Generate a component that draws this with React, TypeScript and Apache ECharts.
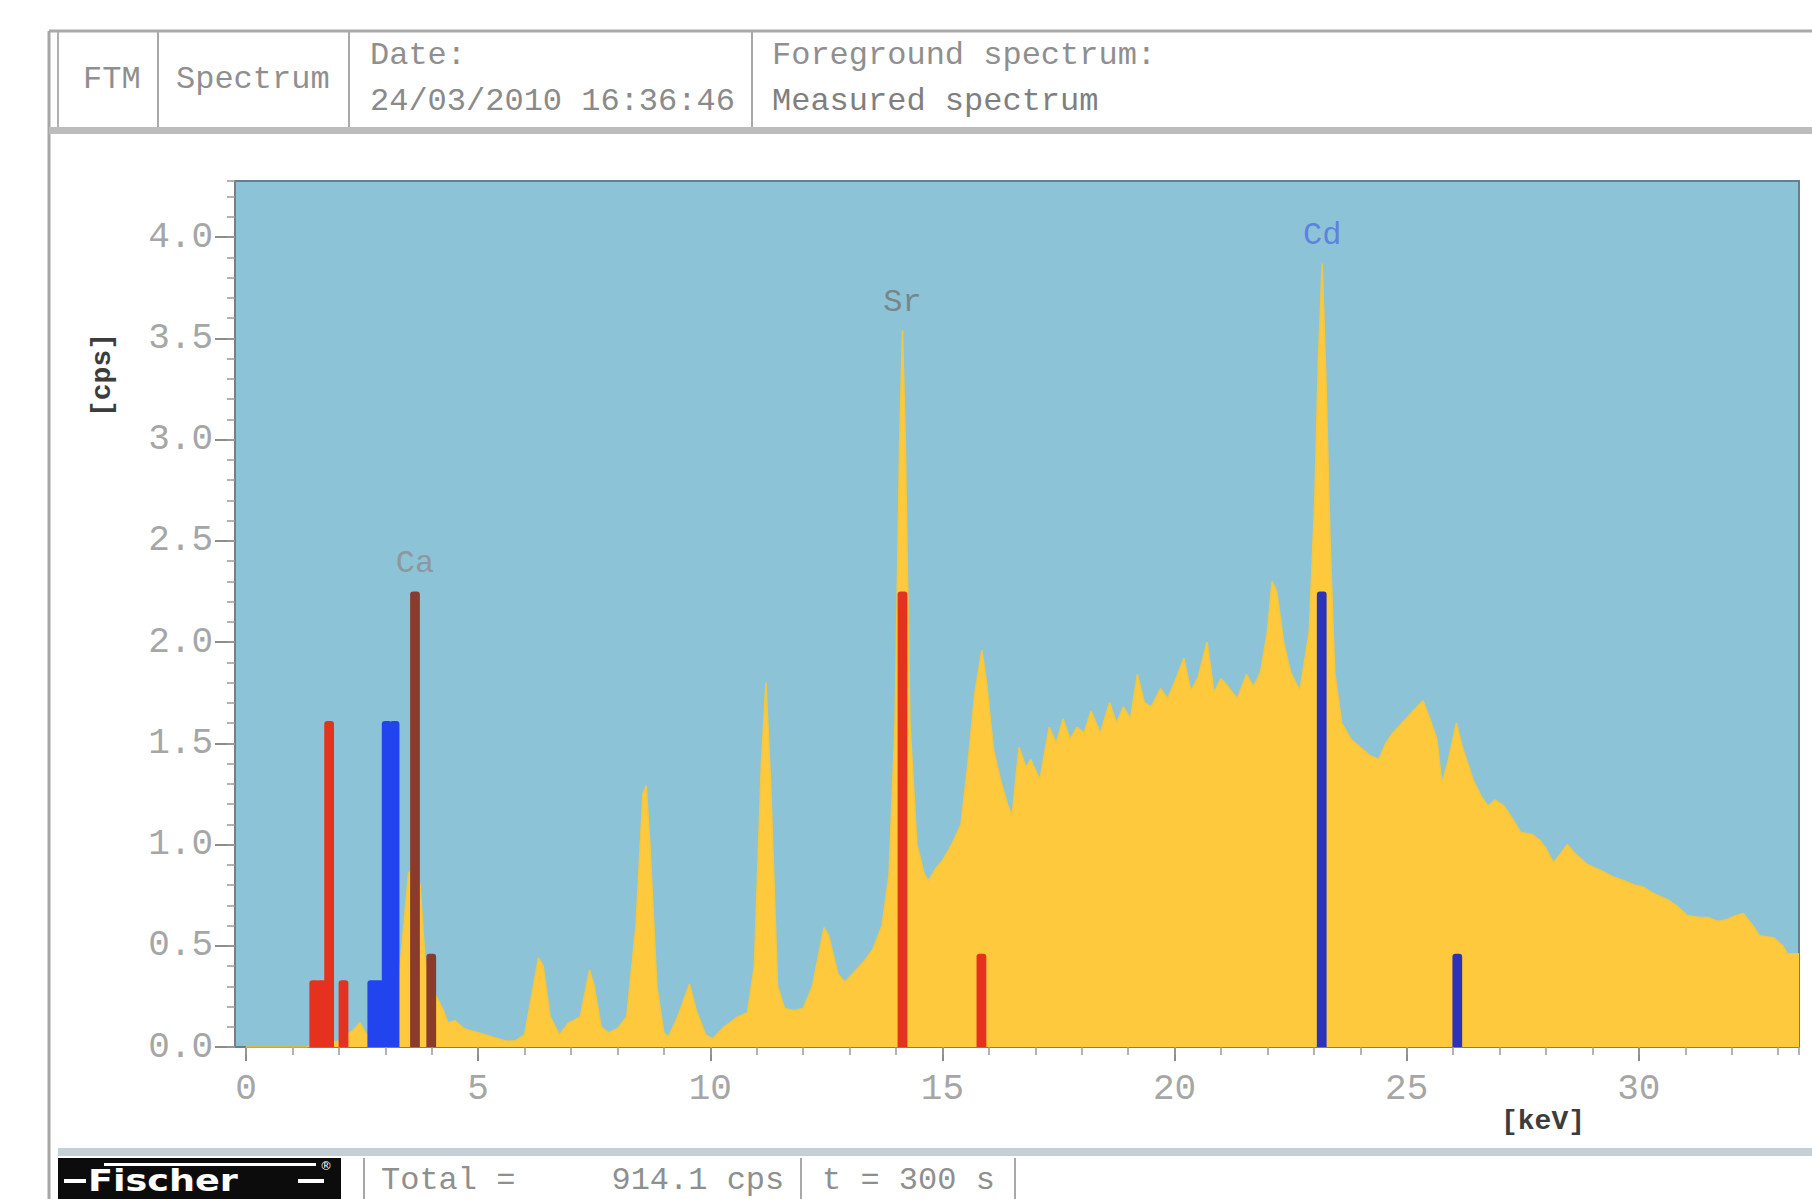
import React, { useEffect, useRef } from "react";
import * as echarts from "echarts";

// ---------- DATA ----------
// Measured XRF spectrum (energy in keV, intensity in cps)
const energies = [
  0, 1.3, 1.5, 2.0, 2.3, 2.45, 2.6, 2.8, 3.0, 3.1, 3.3, 3.4, 3.5, 3.65, 3.75, 3.85, 3.95, 4.1, 4.25, 4.35,
  4.5, 4.7, 5.0, 5.3, 5.6, 5.8, 6.0, 6.15, 6.3, 6.4, 6.55, 6.75, 6.95, 7.05, 7.2, 7.4, 7.5, 7.65, 7.8, 8.0,
  8.2, 8.4, 8.55, 8.62, 8.7, 8.85, 9.0, 9.1, 9.3, 9.55, 9.7, 9.9, 10.05, 10.3, 10.6, 10.8, 10.95, 11.1, 11.2, 11.3,
  11.45, 11.6, 11.8, 12.0, 12.2, 12.45, 12.55, 12.75, 12.9, 13.1, 13.3, 13.5, 13.7, 13.85, 13.98, 14.08, 14.14, 14.2, 14.3, 14.45,
  14.6, 14.7, 14.85, 15.0, 15.2, 15.4, 15.55, 15.7, 15.85, 15.95, 16.1, 16.25, 16.4, 16.5, 16.65, 16.8, 16.9, 17.1, 17.3, 17.45,
  17.6, 17.75, 17.9, 18.05, 18.2, 18.4, 18.6, 18.75, 18.9, 19.05, 19.2, 19.35, 19.5, 19.7, 19.85, 20.0, 20.2, 20.35, 20.5, 20.7,
  20.85, 21.0, 21.15, 21.35, 21.55, 21.7, 21.85, 22.0, 22.1, 22.2, 22.35, 22.5, 22.7, 22.9, 23.02, 23.1, 23.18, 23.26, 23.35, 23.45,
  23.6, 23.8, 24.0, 24.2, 24.4, 24.55, 24.7, 24.9, 25.1, 25.35, 25.5, 25.65, 25.76, 25.9, 26.07, 26.2, 26.43, 26.6, 26.75, 26.9,
  27.1, 27.3, 27.45, 27.7, 27.87, 28.0, 28.16, 28.3, 28.46, 28.65, 28.9, 29.2, 29.45, 29.7, 29.9, 30.1, 30.3, 30.6, 30.8, 31.04,
  31.3, 31.5, 31.7, 31.9, 32.1, 32.25, 32.45, 32.6, 32.9, 33.1, 33.2, 33.45,
];
const counts = [
  0, 0, 0.01, 0.03, 0.08, 0.12, 0.06, 0.05, 0.1, 0.25, 0.35, 0.6, 0.86, 0.88, 0.8, 0.45, 0.3, 0.25, 0.18, 0.12,
  0.13, 0.09, 0.07, 0.05, 0.03, 0.03, 0.06, 0.25, 0.44, 0.4, 0.15, 0.06, 0.12, 0.13, 0.15, 0.38, 0.3, 0.1, 0.07, 0.09,
  0.15, 0.6, 1.25, 1.29, 1.0, 0.3, 0.07, 0.05, 0.15, 0.31, 0.18, 0.06, 0.04, 0.1, 0.15, 0.17, 0.4, 1.4, 1.8, 1.3,
  0.3, 0.19, 0.18, 0.19, 0.3, 0.59, 0.55, 0.36, 0.32, 0.37, 0.42, 0.48, 0.6, 0.85, 1.6, 3.0, 3.54, 3.0, 1.6, 1.0,
  0.86, 0.82, 0.88, 0.92, 1.0, 1.1, 1.4, 1.75, 1.96, 1.8, 1.47, 1.32, 1.2, 1.14, 1.48, 1.38, 1.42, 1.32, 1.58, 1.5,
  1.62, 1.52, 1.58, 1.55, 1.66, 1.55, 1.7, 1.6, 1.68, 1.62, 1.84, 1.7, 1.68, 1.77, 1.72, 1.8, 1.92, 1.76, 1.82, 2.0,
  1.75, 1.82, 1.78, 1.72, 1.84, 1.78, 1.85, 2.05, 2.3, 2.25, 2.0, 1.85, 1.76, 2.05, 2.7, 3.4, 3.87, 3.3, 2.5, 1.85,
  1.6, 1.52, 1.48, 1.44, 1.42, 1.5, 1.55, 1.6, 1.65, 1.71, 1.62, 1.52, 1.3, 1.42, 1.6, 1.48, 1.32, 1.24, 1.19, 1.22,
  1.19, 1.12, 1.06, 1.05, 1.02, 0.98, 0.91, 0.95, 1.0, 0.95, 0.9, 0.87, 0.84, 0.82, 0.8, 0.79, 0.76, 0.73, 0.7, 0.65,
  0.64, 0.64, 0.62, 0.63, 0.65, 0.66, 0.6, 0.55, 0.54, 0.5, 0.46, 0.46,
];

// Element reference lines: [energy keV, relative intensity cps]
const srLines = [[1.47, 0.33], [1.62, 0.33], [1.79, 1.61], [2.1, 0.33], [14.14, 2.25], [15.84, 0.46]];
const cdLLines = [[2.72, 0.33], [2.86, 0.33], [3.03, 1.61], [3.2, 1.61]];
const cdKLines = [[23.17, 2.25], [26.09, 0.46]];
const caLines = [[3.64, 2.25], [3.99, 0.46]];

// Peak annotations
const peakNames = ["Ca", "Sr", "Cd"];
const peakEnergies = [3.64, 14.14, 23.18];
const peakHeights = [2.25, 3.54, 3.87];

// Axis ticks
const xMax = 33.45;
const yMax = 4.277;
const xMajor = 5;
const xMinor = 1;
const yMajor = 0.5;
const yMinor = 0.1;

// Header / footer texts
const headerFTM = "FTM";
const headerKind = "Spectrum";
const headerDateLabel = "Date:";
const headerDate = "24/03/2010 16:36:46";
const headerFgLabel = "Foreground spectrum:";
const headerFg = "Measured spectrum";
const footerTotal = "Total =     914.1 cps";
const footerTime = "t = 300 s";
const logoText = "Fischer";

// ---------- STYLE ----------
const MONO = "'Liberation Mono', 'Courier New', monospace";
const LINE_W = 0.21; // keV width of a reference line bar
const peakColors = ["#8c8c8c", "#747474", "#4f72e2"];

function barSeries(name: string, data: number[][], color: string) {
  return {
    name,
    type: "custom",
    xAxisIndex: 0,
    yAxisIndex: 0,
    z: 4,
    encode: { x: 0, y: 1 },
    data,
    renderItem: (params: any, api: any) => {
      const x = api.value(0);
      const h = api.value(1);
      const p0 = api.coord([x - LINE_W / 2, 0]);
      const p1 = api.coord([x + LINE_W / 2, h]);
      return {
        type: "rect",
        shape: { x: p0[0], y: p1[1], width: p1[0] - p0[0], height: p0[1] - p1[1], r: [3, 3, 0, 0] },
        style: { fill: color },
      };
    },
  };
}

export default function App() {
  const ref = useRef<HTMLDivElement>(null);
  useEffect(() => {
    document.body.style.margin = "0";
    const chart = echarts.init(ref.current!, null, { renderer: "svg" });
    const axisGrey = "#7d7d7d";
    const hdrFont = `32px ${MONO}`;
    const option: any = {
      animation: false,
      backgroundColor: "#ffffff",
      grid: { left: 246, right: 13, top: 181, bottom: 152, containLabel: false, show: false },
      xAxis: [
        {
          type: "value",
          min: 0,
          max: xMax,
          interval: xMajor,
          axisLine: { show: true, onZero: false, lineStyle: { color: axisGrey, width: 2 } },
          axisTick: { show: true, length: 14, lineStyle: { color: "#8c8c8c", width: 2 } },
          axisLabel: {
            margin: 24,
            fontFamily: MONO,
            fontSize: 36,
            color: "#a6a6a6",
            showMaxLabel: false,
          },
          splitLine: { show: false },
        },
        {
          type: "value",
          min: 0,
          max: xMax,
          interval: xMinor,
          position: "bottom",
          axisLine: { show: false, onZero: false },
          axisTick: { show: true, length: 8, lineStyle: { color: "#9a9a9a", width: 1.5 } },
          axisLabel: { show: false },
          splitLine: { show: false },
        },
      ],
      yAxis: [
        {
          type: "value",
          min: 0,
          max: yMax,
          interval: yMajor,
          offset: 11,
          axisLine: { show: true, onZero: false, lineStyle: { color: axisGrey, width: 2 } },
          axisTick: { show: true, length: 20, lineStyle: { color: "#8c8c8c", width: 2 } },
          axisLabel: {
            margin: 22,
            fontFamily: MONO,
            fontSize: 36,
            color: "#a6a6a6",
            showMaxLabel: false,
            formatter: (v: number) => v.toFixed(1),
          },
          splitLine: { show: false },
        },
        {
          type: "value",
          min: 0,
          max: yMax,
          interval: yMinor,
          offset: 11,
          position: "left",
          axisLine: { show: false, onZero: false },
          axisTick: { show: true, length: 8, lineStyle: { color: "#9a9a9a", width: 1.5 } },
          axisLabel: { show: false },
          splitLine: { show: false },
        },
      ],
      series: [
        {
          name: "Measured spectrum",
          type: "line",
          xAxisIndex: 0,
          yAxisIndex: 0,
          z: 2,
          data: energies.map((e, i) => [e, counts[i]]),
          symbol: "none",
          smooth: false,
          lineStyle: { color: "#f3c83f", width: 1.5 },
          areaStyle: { color: "#fec93c", opacity: 1 },
        },
        barSeries("Sr", srLines, "#e4321f"),
        barSeries("Cd L", cdLLines, "#2244ee"),
        barSeries("Cd K", cdKLines, "#2b34b8"),
        barSeries("Ca", caLines, "#8a3b2c"),
        {
          name: "labels",
          type: "scatter",
          xAxisIndex: 0,
          yAxisIndex: 0,
          z: 5,
          symbolSize: 0,
          data: peakNames.map((n, i) => ({
            name: n,
            value: [peakEnergies[i], peakHeights[i]],
            label: { color: peakColors[i] },
          })),
          label: {
            show: true,
            position: "top",
            distance: 12,
            formatter: (p: any) => p.name,
            fontFamily: MONO,
            fontSize: 32,
          },
        },
      ],
      graphic: {
        elements: [
          // plot background
          {
            type: "rect",
            z: -1,
            shape: { x: 235, y: 181, width: 1564, height: 866 },
            style: { fill: "#8dc3d6", stroke: "#667f8c", lineWidth: 2 },
          },
          // frame lines
          { type: "line", z: -1, shape: { x1: 49, y1: 31, x2: 49, y2: 1199 }, style: { stroke: "#a6a6a6", lineWidth: 3 } },
          { type: "line", z: -1, shape: { x1: 58, y1: 31, x2: 58, y2: 127 }, style: { stroke: "#b0b0b0", lineWidth: 2 } },
          { type: "line", z: -1, shape: { x1: 49, y1: 31, x2: 1812, y2: 31 }, style: { stroke: "#aaaaaa", lineWidth: 3 } },
          { type: "line", z: -1, shape: { x1: 158, y1: 31, x2: 158, y2: 127 }, style: { stroke: "#a8a8a8", lineWidth: 2 } },
          { type: "line", z: -1, shape: { x1: 349, y1: 31, x2: 349, y2: 127 }, style: { stroke: "#a8a8a8", lineWidth: 2 } },
          { type: "line", z: -1, shape: { x1: 752, y1: 31, x2: 752, y2: 127 }, style: { stroke: "#a8a8a8", lineWidth: 2 } },
          { type: "rect", z: -1, shape: { x: 49, y: 127, width: 1763, height: 7 }, style: { fill: "#bcbcbc" } },
          // footer
          { type: "rect", z: -1, shape: { x: 58, y: 1148, width: 1754, height: 8 }, style: { fill: "#c3d0d6" } },
          { type: "rect", z: -1, shape: { x: 58, y: 1158, width: 283, height: 41 }, style: { fill: "#0c0c0c" } },
          { type: "line", z: -1, shape: { x1: 364, y1: 1158, x2: 364, y2: 1199 }, style: { stroke: "#a8a8a8", lineWidth: 2 } },
          { type: "line", z: -1, shape: { x1: 801, y1: 1158, x2: 801, y2: 1199 }, style: { stroke: "#a8a8a8", lineWidth: 2 } },
          { type: "line", z: -1, shape: { x1: 1015, y1: 1158, x2: 1015, y2: 1199 }, style: { stroke: "#a8a8a8", lineWidth: 2 } },
          // Fischer logo
          { type: "rect", shape: { x: 64, y: 1179, width: 22, height: 4 }, style: { fill: "#ffffff" } },
          { type: "rect", shape: { x: 104, y: 1163, width: 212, height: 3 }, style: { fill: "#ffffff" } },
          { type: "rect", shape: { x: 298, y: 1179, width: 26, height: 4 }, style: { fill: "#ffffff" } },
          {
            type: "text",
            x: 88,
            y: 1181,
            scaleX: 1.22,
            style: {
              x: 0,
              y: 0,
              text: logoText,
              fill: "#ffffff",
              font: "bold 30px 'DejaVu Sans', sans-serif",
              verticalAlign: "middle",
            },
          },
          {
            type: "text",
            style: { x: 320, y: 1160, text: "®", fill: "#ffffff", font: "12px 'DejaVu Sans', sans-serif" },
          },
          // header texts
          { type: "text", style: { x: 83, y: 79, text: headerFTM, fill: "#8f8f8f", font: hdrFont, verticalAlign: "middle" } },
          { type: "text", style: { x: 176, y: 79, text: headerKind, fill: "#8f8f8f", font: hdrFont, verticalAlign: "middle" } },
          { type: "text", style: { x: 370, y: 55, text: headerDateLabel, fill: "#8f8f8f", font: hdrFont, verticalAlign: "middle" } },
          { type: "text", style: { x: 370, y: 101, text: headerDate, fill: "#8a8a8a", font: hdrFont, verticalAlign: "middle" } },
          { type: "text", style: { x: 772, y: 55, text: headerFgLabel, fill: "#8f8f8f", font: hdrFont, verticalAlign: "middle" } },
          { type: "text", style: { x: 772, y: 101, text: headerFg, fill: "#7f7f7f", font: hdrFont, verticalAlign: "middle" } },
          // footer texts
          { type: "text", style: { x: 381, y: 1180, text: footerTotal, fill: "#8f8f8f", font: hdrFont, verticalAlign: "middle" } },
          { type: "text", style: { x: 822, y: 1180, text: footerTime, fill: "#8f8f8f", font: hdrFont, verticalAlign: "middle" } },
          // axis names
          {
            type: "text",
            x: 102,
            y: 375,
            rotation: Math.PI / 2,
            style: { x: 0, y: 0, text: "[cps]", fill: "#3c3c3c", font: `bold 28px ${MONO}`, align: "center", verticalAlign: "middle" },
          },
          {
            type: "text",
            style: { x: 1543, y: 1121, text: "[keV]", fill: "#3c3c3c", font: `bold 28px ${MONO}`, align: "center", verticalAlign: "middle" },
          },
        ],
      },
    };
    chart.setOption(option);
    return () => chart.dispose();
  }, []);
  return (
    <div
      ref={ref}
      style={{ position: "fixed", left: 0, top: 0, width: 1812, height: 1199, background: "#ffffff" }}
    />
  );
}
